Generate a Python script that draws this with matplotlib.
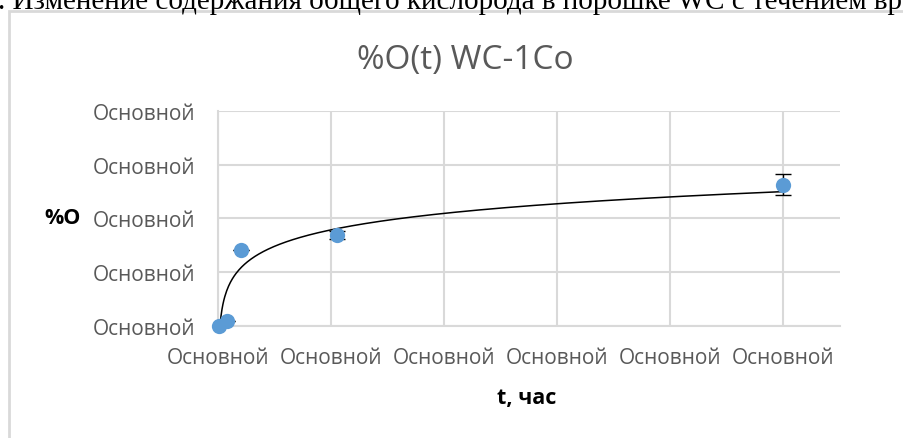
import numpy as np
import matplotlib
matplotlib.use("Agg")
import matplotlib.pyplot as plt
from matplotlib.patches import Rectangle

# Oxygen content of WC-1Co powder vs. storage time
t_hours = [2, 16.5, 40, 210, 1000]
oxygen_pct = [0.0, 0.010, 0.141, 0.169, 0.263]
oxygen_err = [0.0, 0.0, 0.0, 0.008, 0.0195]

x_ticks = [0, 200, 400, 600, 800, 1000]
y_ticks = [0.0, 0.1, 0.2, 0.3, 0.4]
x_tick_labels = ["Основной"] * len(x_ticks)
y_tick_labels = ["Основной"] * len(y_ticks)

title = "%O(t) WC-1Co"
x_label = "t, час"
y_label = "%O"
caption = ". Изменение содержания общего кислорода в порошке WC с течением вр"

W, H = 904, 439
fig = plt.figure(figsize=(W / 100, H / 100), dpi=100)
fig.patch.set_facecolor("white")

def fx(px):
    return px / W

def fy(py):
    return 1 - py / H

# plot area in pixel space: left 218, right 840, top 112, bottom 327
ax = fig.add_axes([fx(218), fy(327), fx(840) - fx(218), fy(112) - fy(327)])
ax.set_xlim(0, 1100)
ax.set_ylim(0, 0.4)

ui_font = ["Open Sans", "DejaVu Sans"]
grid_col = "#d9d9d9"

ax.set_xticks(x_ticks)
ax.set_yticks(y_ticks)
ax.set_xticklabels(x_tick_labels, family=ui_font, fontsize=15, color="#595959")
ax.set_yticklabels(y_tick_labels, family=ui_font, fontsize=15, color="#595959")
ax.tick_params(axis="x", length=0, pad=15)
ax.tick_params(axis="y", length=0, pad=16)
ax.grid(True, color=grid_col, lw=1.5)
ax.set_axisbelow(True)
for side in ["top", "right"]:
    ax.spines[side].set_visible(False)
for side in ["left", "bottom"]:
    ax.spines[side].set_color(grid_col)
    ax.spines[side].set_linewidth(1.5)

# logarithmic trendline fitted to the measurements
t_arr = np.array(t_hours)
y_arr = np.array(oxygen_pct)
a, b = np.polyfit(np.log(t_arr), y_arr, 1)
t_fit = np.linspace(t_arr.min(), t_arr.max(), 600)
ax.plot(t_fit, a * np.log(t_fit) + b, color="black", lw=1.1, zorder=3)

ax.errorbar(t_hours, oxygen_pct, yerr=oxygen_err, fmt="none", ecolor="black",
            elinewidth=1.0, capsize=6, capthick=1.0, zorder=4)
ax.plot(t_hours, oxygen_pct, "o", color="#5b9bd5", ms=11, mec="none",
        zorder=5, clip_on=False)

fig.text(fx(465), fy(60), title, ha="center", va="center",
         family=ui_font, fontsize=24, color="#595959")
fig.text(fx(63), fy(219), y_label, ha="center", va="center",
         family=ui_font, fontsize=15.5, fontweight="bold", color="black")
fig.text(fx(527), fy(399), x_label, ha="center", va="center",
         family=ui_font, fontsize=15.5, fontweight="bold", color="black")

# chart border
fig.add_artist(Rectangle((fx(8.5), -0.5), 2.0, fy(12) + 0.5,
                         transform=fig.transFigure, fill=False,
                         edgecolor="#d9d9d9", lw=2.0))

fig.text(fx(-2), fy(9), caption, ha="left", va="baseline",
         family=["Liberation Serif", "DejaVu Serif"], fontsize=21, color="black")

fig.savefig("out.png", dpi=100)
